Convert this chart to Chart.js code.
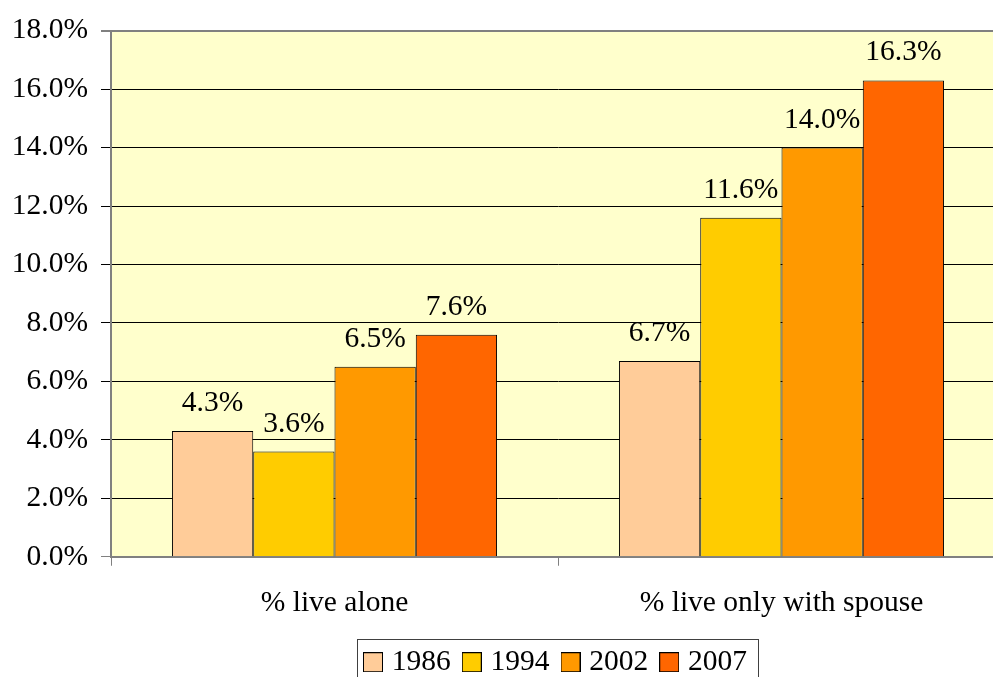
<!DOCTYPE html>
<html>
<head>
<meta charset="utf-8">
<script src="https://cdn.jsdelivr.net/npm/chart.js@4/dist/chart.umd.min.js"></script>
<style>
  html, body { margin: 0; padding: 0; background: #fff; overflow: hidden; }
  #wrap { width: 993px; height: 677px; overflow: hidden; }
  canvas { display: block; }
</style>
</head>
<body>
<div id="wrap"><canvas id="c" width="1005" height="687"></canvas></div>
<script>
// Household living arrangements, share of people by survey year
const categories = ['% live alone', '% live only with spouse'];
const years = ['1986', '1994', '2002', '2007'];
const values1986 = [4.3, 6.7];
const values1994 = [3.6, 11.6];
const values2002 = [6.5, 14.0];
const values2007 = [7.6, 16.3];
const yMax = 18;
const yStep = 2;

const seriesValues = [values1986, values1994, values2002, values2007];
const seriesColors = ['#FFCC99', '#FFCC00', '#FF9900', '#FF6600'];

const FONT = 'Liberation Serif, "Times New Roman", serif';
const FONT_SIZE = 29.5;
Chart.defaults.font.family = FONT;
Chart.defaults.font.size = FONT_SIZE;
Chart.defaults.color = '#000';

const fmt = v => v.toFixed(1) + '%';

// Small outlined swatch used as the legend marker
function swatch(color) {
  const c = document.createElement('canvas');
  c.width = 20; c.height = 20;
  const g = c.getContext('2d');
  g.fillStyle = color;
  g.fillRect(0, 0, 20, 20);
  g.strokeStyle = '#000';
  g.lineWidth = 1;
  g.strokeRect(0.5, 0.5, 19, 19);
  return c;
}
const swatches = seriesColors.map(swatch);

// Pale yellow plot background
const plotBackground = {
  id: 'plotBackground',
  beforeDraw(chart) {
    const { ctx, chartArea: a } = chart;
    ctx.save();
    ctx.fillStyle = '#FFFFCC';
    ctx.fillRect(a.left, a.top, a.right - a.left, a.bottom - a.top);
    ctx.restore();
  }
};

// Value labels above each bar
const valueLabels = {
  id: 'valueLabels',
  afterDatasetsDraw(chart) {
    const { ctx } = chart;
    ctx.save();
    ctx.font = FONT_SIZE + 'px ' + FONT;
    ctx.fillStyle = '#000';
    ctx.textAlign = 'center';
    ctx.textBaseline = 'alphabetic';
    chart.data.datasets.forEach((ds, di) => {
      chart.getDatasetMeta(di).data.forEach((el, i) => {
        ctx.fillText(fmt(ds.data[i]), el.x, el.y - 20);
      });
    });
    ctx.restore();
  }
};

// Centre the legend under the plot area and frame it
const legendFrame = {
  id: 'legendFrame',
  afterLayout(chart) {
    const lg = chart.legend, a = chart.chartArea;
    const dx = (a.left + a.right) / 2 - (lg.left + lg.right) / 2;
    lg.left += dx;
    lg.right += dx;
  },
  afterDraw(chart) {
    const lg = chart.legend;
    const boxes = lg.legendHitBoxes;
    if (!boxes || !boxes.length) return;
    const first = boxes[0], last = boxes[boxes.length - 1];
    const x0 = Math.round(first.left - 12) + 0.5;
    const x1 = Math.round(last.left + last.width + 11) + 0.5;
    const y0 = Math.round(first.top - 9) + 0.5;
    const y1 = lg.bottom + 10;
    const ctx = chart.ctx;
    ctx.save();
    ctx.strokeStyle = '#404040';
    ctx.lineWidth = 1;
    ctx.strokeRect(x0, y0, x1 - x0, y1 - y0);
    ctx.restore();
  }
};

new Chart(document.getElementById('c'), {
  type: 'bar',
  data: {
    labels: categories,
    datasets: years.map((y, i) => ({
      label: y,
      data: seriesValues[i],
      backgroundColor: seriesColors[i],
      borderColor: '#000',
      borderWidth: 1,
      categoryPercentage: 4 / 5.5,
      barPercentage: 1
    }))
  },
  options: {
    responsive: false,
    animation: false,
    layout: { padding: { top: 28, left: 0, right: 0, bottom: 0 } },
    plugins: {
      legend: {
        position: 'bottom',
        labels: {
          usePointStyle: true,
          pointStyleWidth: 8,
          boxHeight: 20,
          padding: 17,
          color: '#000',
          font: { size: FONT_SIZE, family: FONT },
          generateLabels(chart) {
            const items = Chart.defaults.plugins.legend.labels.generateLabels(chart);
            items.forEach((it, i) => { it.pointStyle = swatches[i]; });
            return items;
          }
        }
      },
      tooltip: { enabled: false }
    },
    scales: {
      x: {
        grid: {
          drawOnChartArea: false,
          drawTicks: true,
          tickLength: 9,
          color: '#808080',
          offset: true
        },
        border: { color: '#808080', width: 2 },
        ticks: { padding: 20, color: '#000', font: { size: FONT_SIZE } },
        afterFit(scale) { scale.height = 73.75; }
      },
      y: {
        min: 0,
        max: yMax,
        ticks: {
          stepSize: yStep,
          padding: 13,
          color: '#000',
          font: { size: FONT_SIZE },
          callback: v => fmt(v)
        },
        grid: {
          tickLength: 10,
          color: c => (c.tick && (c.tick.value === 0 || c.tick.value === yMax)) ? '#808080' : '#000',
          lineWidth: c => (c.tick && c.tick.value === yMax) ? 2 : 1
        },
        border: { color: '#808080', width: 2 },
        afterFit(scale) { scale.width = 111; }
      }
    }
  },
  plugins: [plotBackground, valueLabels, legendFrame]
});
</script>
</body>
</html>
